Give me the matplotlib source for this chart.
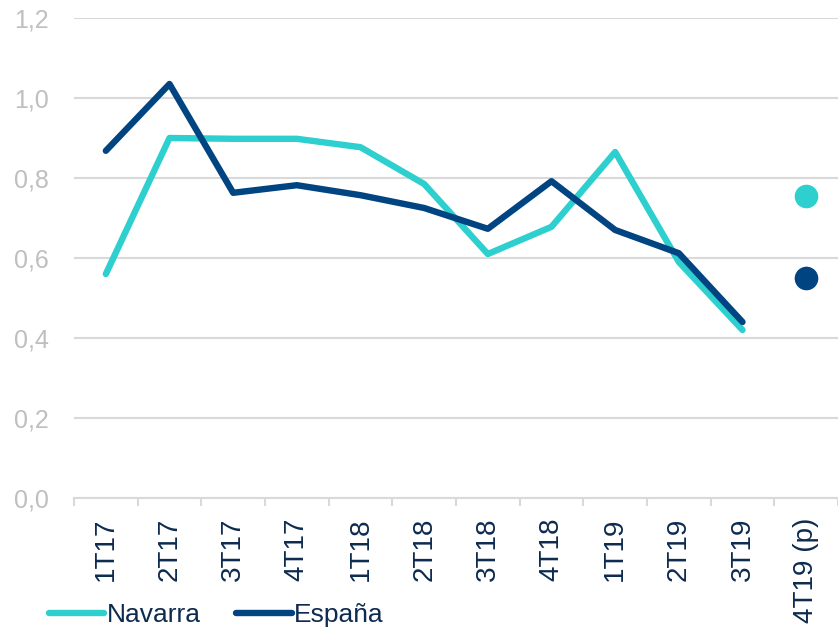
import matplotlib.pyplot as plt
import numpy as np

plt.rcParams['font.family'] = ['Liberation Sans', 'DejaVu Sans']

# data
quarters = ['1T17', '2T17', '3T17', '4T17', '1T18', '2T18', '3T18', '4T18',
            '1T19', '2T19', '3T19', '4T19 (p)']
navarra = [0.56, 0.90, 0.898, 0.898, 0.877, 0.785, 0.61, 0.678, 0.865, 0.59, 0.42]
espana = [0.868, 1.035, 0.763, 0.782, 0.757, 0.725, 0.673, 0.792, 0.67, 0.612, 0.44]
navarra_prev = 0.755
espana_prev = 0.55

c_nav = '#2ECFCF'
c_esp = '#004481'
grey = '#D9D9D9'
txt = '#0D2A4F'

fig = plt.figure(figsize=(8.38, 6.27), dpi=100)
ax = fig.add_axes([74 / 838, 129 / 627, (838 - 74) / 838, 480 / 627])

x = np.arange(len(navarra))
ax.plot(x, navarra, color=c_nav, lw=4.6, solid_capstyle='round', label='Navarra', zorder=3)
ax.plot(x, espana, color=c_esp, lw=4.6, solid_capstyle='round', label='España', zorder=4)
last = len(quarters) - 1
ax.plot([last], [navarra_prev], 'o', color=c_nav, ms=16, zorder=3)
ax.plot([last], [espana_prev], 'o', color=c_esp, ms=16, zorder=4)

ax.set_ylim(0, 1.2)
ax.set_yticks(np.arange(0, 1.21, 0.2))
ax.set_yticklabels([f'{v:.1f}'.replace('.', ',') for v in np.arange(0, 1.21, 0.2)])
ax.yaxis.grid(True, color=grey, lw=1.5)
ax.set_axisbelow(True)

ax.set_xlim(-0.5, -0.5 + (838 - 74) / 64.5)
ax.set_xticks(np.arange(len(quarters)))
ax.set_xticklabels(quarters, rotation=90, fontsize=20, color=txt)
ax.set_xticks(np.arange(-0.5, len(quarters), 1), minor=True)
ax.tick_params(axis='x', which='major', length=0, pad=14)
ax.tick_params(axis='x', which='minor', length=6, width=1.5, color=grey)
ax.tick_params(axis='y', length=0, labelsize=18, labelcolor='#BFBFBF', pad=18)

for s in ['top', 'right', 'left']:
    ax.spines[s].set_visible(False)
ax.spines['bottom'].set_color(grey)
ax.spines['bottom'].set_linewidth(1.5)

fig.legend(loc='lower left', bbox_to_anchor=(0.058, 0.0), ncol=2, frameon=False,
           fontsize=19, labelcolor=txt, handlelength=2.1, handletextpad=0.1,
           columnspacing=1.35, borderpad=0, borderaxespad=0)

fig.savefig('out.png', dpi=100)
